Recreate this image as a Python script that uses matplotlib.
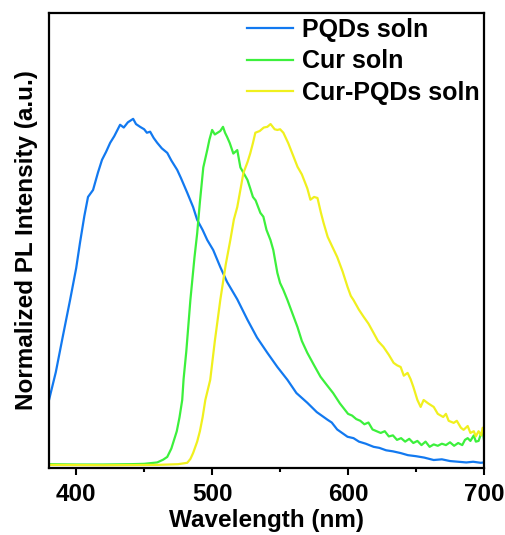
import matplotlib
matplotlib.use("Agg")
import matplotlib.pyplot as plt
from matplotlib.ticker import MultipleLocator

plt.rcParams['font.family'] = ['Liberation Sans', 'DejaVu Sans']
plt.rcParams['font.weight'] = 'bold'

# PQDs soln
wl_pqd = [380, 385, 390, 395.5, 400, 402.8, 406, 408.7, 412.4, 416, 419, 422, 425, 428,
          432.3, 435, 438, 441.9, 444, 447, 450, 452, 454.4, 457, 459.6, 463, 467, 470, 474.3,
          477, 481.7, 486, 489, 493, 496.4, 500.8, 506, 511, 518.5, 526, 533, 540.6, 548,
          555.4, 562, 570, 577, 584.9, 588, 592, 599.6, 604, 608, 613, 618.8, 623, 628, 633,
          638.7, 644, 650, 656, 663, 669, 675, 681, 687, 692, 697.6, 700]
pl_pqd = [0.19, 0.27, 0.37, 0.478, 0.57, 0.643, 0.72, 0.775, 0.795, 0.845, 0.882, 0.905,
          0.931, 0.95, 0.983, 0.975, 0.99, 1.0, 0.985, 0.977, 0.97, 0.96, 0.963, 0.945, 0.931,
          0.915, 0.902, 0.88, 0.853, 0.83, 0.787, 0.746, 0.709, 0.68, 0.651, 0.622, 0.573,
          0.53, 0.48, 0.421, 0.37, 0.326, 0.285, 0.248, 0.21, 0.182, 0.155, 0.133, 0.125,
          0.105, 0.084, 0.08, 0.07, 0.064, 0.055, 0.052, 0.045, 0.042, 0.037, 0.031, 0.028,
          0.024, 0.017, 0.019, 0.014, 0.012, 0.01, 0.012, 0.009, 0.01]

# Cur soln
wl_cur = [380, 400, 420, 440, 450, 459.6, 464, 467, 470, 474, 476, 478, 479, 481, 484, 487,
          489, 491, 493.5, 496.4, 498, 500, 502, 504, 506, 508, 509.5, 511, 513, 515.6,
          518.5, 520.8, 523, 526, 528, 530, 532, 535.5, 537.7, 540, 542.9, 545, 548, 550,
          552.4, 555.4, 559, 562.8, 566, 570, 575, 579.7, 584, 589, 594, 600, 603, 606,
          609, 612, 615, 618, 621, 624, 627, 630, 633, 636, 639, 642, 645, 648, 651, 654,
          657, 660, 663, 666, 669, 672, 675, 678, 681, 684, 686, 688, 690, 692.5, 694, 696,
          698, 699, 700]
pl_cur = [0.005, 0.004, 0.004, 0.005, 0.006, 0.01, 0.018, 0.026, 0.05, 0.10, 0.14, 0.19,
          0.25, 0.33, 0.478, 0.6, 0.67, 0.76, 0.86, 0.91, 0.94, 0.968, 0.955, 0.96, 0.965,
          0.977, 0.96, 0.948, 0.93, 0.90, 0.91, 0.86, 0.845, 0.824, 0.80, 0.775, 0.765,
          0.729, 0.718, 0.68, 0.651, 0.622, 0.556, 0.527, 0.507, 0.478, 0.44, 0.40, 0.36,
          0.326, 0.29, 0.257, 0.235, 0.21, 0.18, 0.15, 0.145, 0.135, 0.13, 0.12, 0.125,
          0.105, 0.10, 0.095, 0.10, 0.085, 0.088, 0.075, 0.08, 0.07, 0.078, 0.066, 0.072,
          0.06, 0.07, 0.055, 0.062, 0.058, 0.064, 0.06, 0.068, 0.058, 0.066, 0.06, 0.075,
          0.08, 0.072, 0.088, 0.07, 0.072, 0.095, 0.1, 0.075]

# Cur-PQDs soln
wl_mix = [380, 420, 460, 475, 481.7, 484, 486, 489, 491, 493, 495, 498.6, 502, 506, 510,
          513.4, 516, 518.5, 521, 523, 526, 528, 530, 531.8, 535, 538, 540.6, 543, 546, 548,
          550, 552.4, 556, 559, 562.8, 566, 570, 572.3, 575, 577.5, 580, 582, 585, 588, 592,
          596, 599.6, 602, 604, 608, 611.4, 615, 618.8, 622, 626, 630, 633.5, 636, 638.7,
          641, 643.8, 646, 648, 651, 653.4, 655.6, 659, 663, 666, 670, 672, 674, 677.7, 680,
          683, 685, 688, 690, 692.5, 694, 696, 698, 699, 700]
pl_mix = [0.003, 0.002, 0.003, 0.005, 0.009, 0.02, 0.037, 0.07, 0.10, 0.14, 0.19, 0.248,
          0.36, 0.478, 0.58, 0.651, 0.71, 0.746, 0.80, 0.844, 0.875, 0.90, 0.93, 0.96,
          0.965, 0.975, 0.977, 0.985, 0.97, 0.968, 0.97, 0.96, 0.93, 0.9, 0.862, 0.84,
          0.80, 0.767, 0.775, 0.772, 0.73, 0.70, 0.66, 0.635, 0.602, 0.56, 0.516, 0.49,
          0.478, 0.45, 0.43, 0.41, 0.383, 0.36, 0.343, 0.32, 0.297, 0.29, 0.285, 0.26,
          0.268, 0.25, 0.228, 0.19, 0.17, 0.19, 0.18, 0.17, 0.15, 0.141, 0.15, 0.13, 0.124,
          0.13, 0.11, 0.104, 0.115, 0.095, 0.1, 0.085, 0.1, 0.088, 0.11, 0.105]

labels = ["PQDs soln", "Cur soln", "Cur-PQDs soln"]
colors = ["#1279F0", "#3CF03C", "#F0F01E"]

fig = plt.figure(figsize=(5.05, 5.35), dpi=100)
ax = fig.add_axes([49 / 505, 1 - 468 / 535, 435 / 505, 455 / 535])

for wl, pl, lab, c in zip([wl_pqd, wl_cur, wl_mix], [pl_pqd, pl_cur, pl_mix], labels, colors):
    ax.plot(wl, pl, color=c, lw=1.6, label=lab)

ax.set_xlim(380, 700)
ax.set_ylim(-0.006, 1.305)
ax.xaxis.set_major_locator(MultipleLocator(100))
ax.xaxis.set_minor_locator(MultipleLocator(50))
ax.set_yticks([])
ax.tick_params(axis='x', which='major', direction='out', length=5, width=1.5,
               labelsize=17.5, pad=6)
ax.tick_params(axis='x', which='minor', direction='out', length=3, width=1.5)
for s in ax.spines.values():
    s.set_linewidth(1.6)

ax.set_xlabel("Wavelength (nm)", fontsize=17.5, fontweight='bold', labelpad=2)
ax.set_ylabel("Normalized PL Intensity (a.u.)", fontsize=17.5, fontweight='bold', labelpad=8)

ax.legend(loc='upper left', bbox_to_anchor=(0.455, 0.99), frameon=False,
          prop={'size': 18, 'weight': 'bold'}, handlelength=1.85, handletextpad=0.36,
          labelspacing=0.31, borderpad=0, borderaxespad=0)

fig.savefig("out.png", dpi=100)
